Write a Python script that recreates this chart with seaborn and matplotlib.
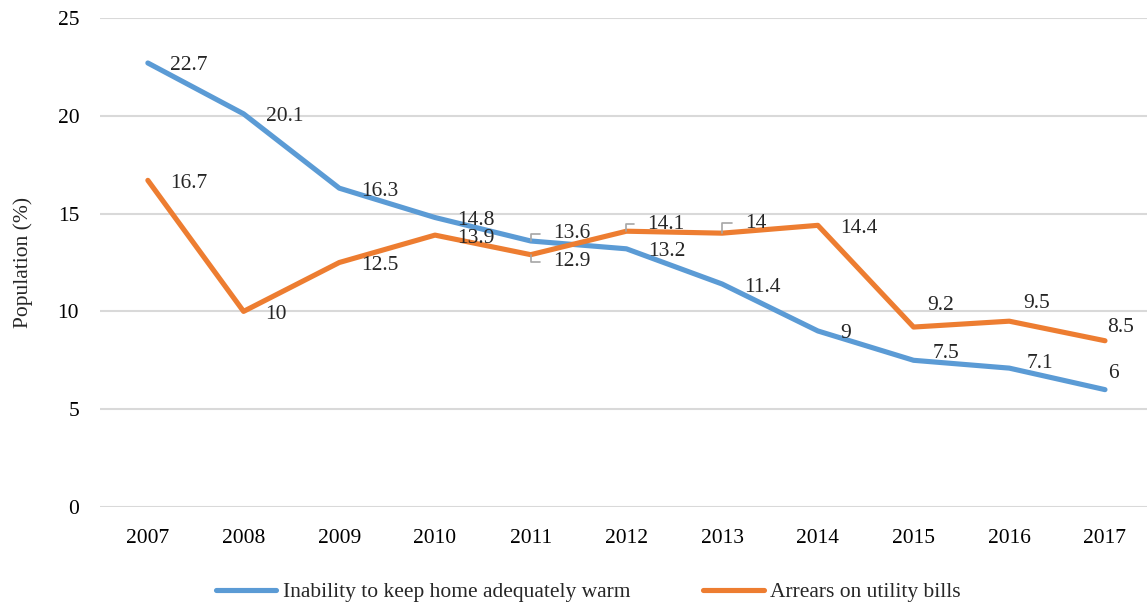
import matplotlib
matplotlib.use("Agg")
import matplotlib.pyplot as plt
import seaborn as sns
import pandas as pd

years = [2007, 2008, 2009, 2010, 2011, 2012, 2013, 2014, 2015, 2016, 2017]
warm = [22.7, 20.1, 16.3, 14.8, 13.6, 13.2, 11.4, 9, 7.5, 7.1, 6]
arrears = [16.7, 10, 12.5, 13.9, 12.9, 14.1, 14, 14.4, 9.2, 9.5, 8.5]
warm_label = "Inability to keep home adequately warm"
arrears_label = "Arrears on utility bills"
y_ticks = [0, 5, 10, 15, 20, 25]

df = pd.DataFrame({
    "Year": years * 2,
    "Value": warm + arrears,
    "Series": [warm_label] * len(years) + [arrears_label] * len(years),
})

sns.set_style("white")
plt.rcParams["font.family"] = ["Liberation Serif", "DejaVu Serif"]

BLUE = "#5B9BD5"
ORANGE = "#ED7D31"
GRID = "#D9D9D9"
FS = 15.5

fig = plt.figure(figsize=(11.47, 6.03), dpi=100)
ax = fig.add_axes([100 / 1147, 1 - 507 / 603, 1 - 100 / 1147, (507 - 18) / 603])

sns.lineplot(data=df, x="Year", y="Value", hue="Series",
             palette={warm_label: BLUE, arrears_label: ORANGE},
             linewidth=3.7, ax=ax, legend=True)
for ln in ax.get_lines():
    ln.set_solid_capstyle("round")
    ln.set_solid_joinstyle("round")

ax.set_xlim(2006.5, 2007 + (1147 - 148) / 95.7)
ax.set_ylim(0, 25)
ax.set_yticks(y_ticks)
ax.set_xticks(years)
ax.set_xticklabels([str(y) for y in years])
ax.tick_params(axis="both", length=0, labelsize=FS, colors="black")
ax.tick_params(axis="y", pad=15)
ax.tick_params(axis="x", pad=16)
ax.yaxis.grid(True, color=GRID, linewidth=1.5)
ax.set_axisbelow(True)
for s in ax.spines.values():
    s.set_visible(False)
ax.set_xlabel("")
ax.set_ylabel("Population (%)", fontsize=FS, labelpad=18)

# data label offsets (pixels, x right / y up)
default_off = (22, -3)
warm_off = {4: (22, 7), 8: (19, 7), 9: (17, 5), 10: (3, 16)}
arrears_off = {4: (22, -7), 5: (21, 7), 6: (23, 10), 8: (14, 22), 9: (14, 18), 10: (2, 13)}
warm_leader = {4}
arrears_leader = {4, 5, 6}

def add_labels(vals, offs, leaders):
    for i, (x, v) in enumerate(zip(years, vals)):
        off = offs.get(i, default_off)
        txt = f"{v:g}"
        if i in leaders:
            ax.annotate(txt, xy=(x, v), xytext=off, textcoords="offset pixels",
                        ha="left", va="center", fontsize=FS,
                        arrowprops=dict(arrowstyle="-", color="#A6A6A6", lw=1.2,
                                        connectionstyle="angle,angleA=0,angleB=90,rad=0",
                                        shrinkA=7, shrinkB=0, relpos=(0, 0.5)))
        else:
            ax.annotate(txt, xy=(x, v), xytext=off, textcoords="offset pixels",
                        ha="left", va="center", fontsize=FS)

add_labels(warm, warm_off, warm_leader)
add_labels(arrears, arrears_off, arrears_leader)

leg = ax.get_legend()
handles = leg.legend_handles
labels = [t.get_text() for t in leg.get_texts()]
leg.remove()
fig.legend(handles, labels, loc="center", bbox_to_anchor=(0.513, 0.018), ncol=2,
           frameon=False, fontsize=FS, handlelength=2.8, handletextpad=0.3,
           columnspacing=3.4)
for h in fig.legends[0].legend_handles:
    h.set_linewidth(3.7)
    h.set_solid_capstyle("round")

fig.savefig("out.png", dpi=100)
